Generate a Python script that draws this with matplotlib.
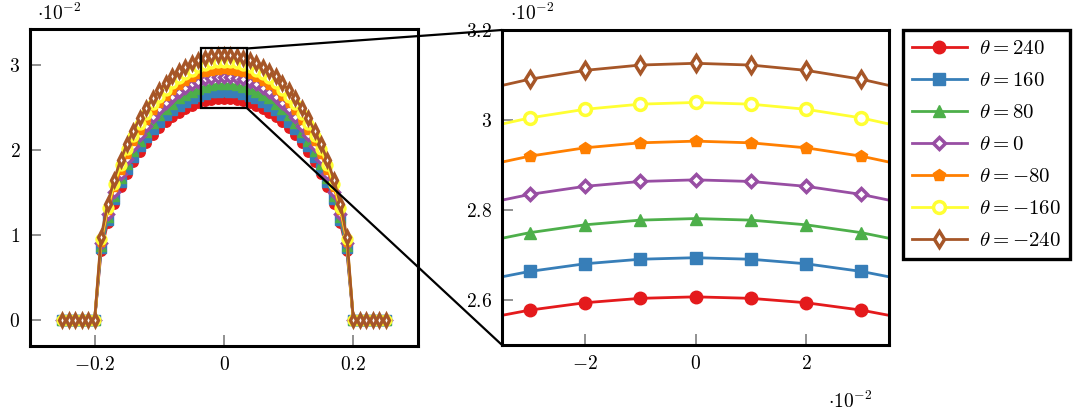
import numpy as np
import matplotlib
matplotlib.use("Agg")
import matplotlib.pyplot as plt
from matplotlib.patches import Rectangle, ConnectionPatch
from matplotlib.ticker import FixedLocator, FuncFormatter

plt.rcParams['mathtext.fontset'] = 'cm'
plt.rcParams['font.family'] = ['DejaVu Serif']

# Datos (y en unidades de 10^-2)
x = [-0.25, -0.24, -0.23, -0.22, -0.21, -0.20, -0.19, -0.18, -0.17, -0.16,
     -0.15, -0.14, -0.13, -0.12, -0.11, -0.10, -0.09, -0.08, -0.07, -0.06,
     -0.05, -0.04, -0.03, -0.02, -0.01, 0.00, 0.01, 0.02, 0.03, 0.04,
     0.05, 0.06, 0.07, 0.08, 0.09, 0.10, 0.11, 0.12, 0.13, 0.14,
     0.15, 0.16, 0.17, 0.18, 0.19, 0.20, 0.21, 0.22, 0.23, 0.24, 0.25]

y_240 = [0, 0, 0, 0, 0, 0, 0.81, 1.14, 1.37, 1.56, 1.72, 1.86, 1.98, 2.09, 2.18, 2.26,
         2.33, 2.39, 2.44, 2.49, 2.52, 2.5543, 2.5775, 2.5939, 2.6037, 2.607,
         2.6037, 2.5939, 2.5775, 2.5543, 2.52, 2.49, 2.44, 2.39, 2.33, 2.26, 2.18,
         2.09, 1.98, 1.86, 1.72, 1.56, 1.37, 1.14, 0.81, 0, 0, 0, 0, 0, 0]
y_160 = [0, 0, 0, 0, 0, 0, 0.84, 1.17, 1.42, 1.62, 1.78, 1.92, 2.05, 2.16, 2.25, 2.33,
         2.41, 2.47, 2.52, 2.57, 2.61, 2.6396, 2.6635, 2.6805, 2.6906, 2.694,
         2.6906, 2.6805, 2.6635, 2.6396, 2.61, 2.57, 2.52, 2.47, 2.41, 2.33, 2.25,
         2.16, 2.05, 1.92, 1.78, 1.62, 1.42, 1.17, 0.84, 0, 0, 0, 0, 0, 0]
y_80 = [0, 0, 0, 0, 0, 0, 0.87, 1.21, 1.46, 1.67, 1.84, 1.99, 2.11, 2.22, 2.32, 2.41,
        2.48, 2.55, 2.61, 2.65, 2.69, 2.7248, 2.7496, 2.7671, 2.7775, 2.781,
        2.7775, 2.7671, 2.7496, 2.7248, 2.69, 2.65, 2.61, 2.55, 2.48, 2.41, 2.32,
        2.22, 2.11, 1.99, 1.84, 1.67, 1.46, 1.21, 0.87, 0, 0, 0, 0, 0, 0]
y_0 = [0, 0, 0, 0, 0, 0, 0.90, 1.25, 1.51, 1.72, 1.90, 2.05, 2.18, 2.29, 2.39, 2.48,
       2.56, 2.63, 2.69, 2.73, 2.78, 2.8091, 2.8346, 2.8526, 2.8634, 2.867,
       2.8634, 2.8526, 2.8346, 2.8091, 2.78, 2.73, 2.69, 2.63, 2.56, 2.48, 2.39,
       2.29, 2.18, 2.05, 1.90, 1.72, 1.51, 1.25, 0.90, 0, 0, 0, 0, 0, 0]
y_m80 = [0, 0, 0, 0, 0, 0, 0.92, 1.29, 1.56, 1.77, 1.95, 2.11, 2.24, 2.36, 2.47, 2.56,
         2.64, 2.71, 2.77, 2.82, 2.86, 2.8934, 2.9196, 2.9382, 2.9493, 2.953,
         2.9493, 2.9382, 2.9196, 2.8934, 2.86, 2.82, 2.77, 2.71, 2.64, 2.56, 2.47,
         2.36, 2.24, 2.11, 1.95, 1.77, 1.56, 1.29, 0.92, 0, 0, 0, 0, 0, 0]
y_m160 = [0, 0, 0, 0, 0, 0, 0.95, 1.32, 1.60, 1.82, 2.01, 2.17, 2.31, 2.43, 2.54, 2.63,
          2.71, 2.79, 2.85, 2.90, 2.94, 2.9776, 3.0046, 3.0238, 3.0352, 3.039,
          3.0352, 3.0238, 3.0046, 2.9776, 2.94, 2.90, 2.85, 2.79, 2.71, 2.63, 2.54,
          2.43, 2.31, 2.17, 2.01, 1.82, 1.60, 1.32, 0.95, 0, 0, 0, 0, 0, 0]
y_m240 = [0, 0, 0, 0, 0, 0, 0.98, 1.36, 1.65, 1.88, 2.07, 2.23, 2.38, 2.50, 2.61, 2.71,
          2.79, 2.87, 2.93, 2.98, 3.03, 3.0629, 3.0906, 3.1103, 3.1221, 3.126,
          3.1221, 3.1103, 3.0906, 3.0629, 3.03, 2.98, 2.93, 2.87, 2.79, 2.71, 2.61,
          2.50, 2.38, 2.23, 2.07, 1.88, 1.65, 1.36, 0.98, 0, 0, 0, 0, 0, 0]

series = [y_240, y_160, y_80, y_0, y_m80, y_m160, y_m240]
labels = [r'$\theta = 240$', r'$\theta = 160$', r'$\theta = 80$', r'$\theta = 0$',
          r'$\theta = -80$', r'$\theta = -160$', r'$\theta = -240$']
colores = ['#e41a1c', '#377eb8', '#4daf4a', '#984ea3', '#ff7f00', '#ffff33', '#a65628']
marcas = ['o', 's', '^', 'D', 'p', 'o', 'd']
rellenos = [None, None, None, 'white', None, 'white', 'white']
# factor de tamaño de cada marca
escalas = [1.0, 1.0, 1.0, 0.72, 1.0, 0.95, 0.85]

FS = 14

fig = plt.figure(figsize=(10.75, 4.12), dpi=100)
axL = fig.add_axes([30/1075, 66/412, 388/1075, 317/412])
axR = fig.add_axes([502/1075, 67/412, 387/1075, 315/412])


def fmt(v, pos):
    s = ('%.2f' % v).rstrip('0').rstrip('.')
    if s == '-0':
        s = '0'
    return '$' + s + '$'


def fmt100(v, pos):
    return fmt(v * 100, pos)


for ax, ms, lw, mew in [(axL, 6.8, 2.0, 2.4), (axR, 9.0, 2.0, 2.5)]:
    for y, lab, c, m, f, e in zip(series, labels, colores, marcas, rellenos, escalas):
        kw = dict(color=c, marker=m, label=lab, lw=lw, ms=ms * e, mec=c)
        if f is not None:
            kw['mfc'] = f
            kw['mew'] = mew
        ax.plot(x, y, **kw)
    for s in ax.spines.values():
        s.set_linewidth(2.2)
        s.set_color('black')
    ax.tick_params(direction='in', length=8, width=1.3, color='#888888',
                   labelsize=FS, pad=7, top=False, right=False)

axL.set_xlim(-0.3, 0.3)
axL.set_ylim(-0.312, 3.43)
axL.xaxis.set_major_locator(FixedLocator([-0.2, 0, 0.2]))
axL.yaxis.set_major_locator(FixedLocator([0, 1, 2, 3]))
axL.xaxis.set_major_formatter(FuncFormatter(fmt))
axL.yaxis.set_major_formatter(FuncFormatter(fmt))

axR.set_xlim(-0.035, 0.035)
axR.set_ylim(2.5, 3.2)
axR.xaxis.set_major_locator(FixedLocator([-0.02, 0, 0.02]))
axR.yaxis.set_major_locator(FixedLocator([2.6, 2.8, 3.0, 3.2]))
axR.xaxis.set_major_formatter(FuncFormatter(fmt100))
axR.yaxis.set_major_formatter(FuncFormatter(fmt))

# Recuadro de zoom y lineas de conexion
axL.add_patch(Rectangle((-0.035, 2.5), 0.07, 0.7, fill=False, ec='black', lw=1.6, zorder=10))
for ya, yb in [(3.2, 1), (2.5, 0)]:
    con = ConnectionPatch(xyA=(0.035, ya), coordsA=axL.transData,
                          xyB=(0, yb), coordsB=axR.transAxes,
                          color='black', lw=1.6, zorder=10)
    fig.add_artist(con)

fig.text(37/1075, 1 - 13/412, r'$\cdot 10^{-2}$', fontsize=FS, va='center', ha='left')
fig.text(510/1075, 1 - 13/412, r'$\cdot 10^{-2}$', fontsize=FS, va='center', ha='left')
fig.text(828/1075, 1 - 401/412, r'$\cdot 10^{-2}$', fontsize=FS, va='center', ha='left')

leg = axR.legend(loc='upper left', bbox_to_anchor=(903/1075, 1 - 30/412),
                 bbox_transform=fig.transFigure, borderaxespad=0, fontsize=FS + 1,
                 fancybox=False, framealpha=1, edgecolor='black',
                 handlelength=2.6, labelspacing=0.62, borderpad=0.45, handletextpad=0.6)
leg.get_frame().set_linewidth(2.4)

plt.savefig('out.png', dpi=100)
